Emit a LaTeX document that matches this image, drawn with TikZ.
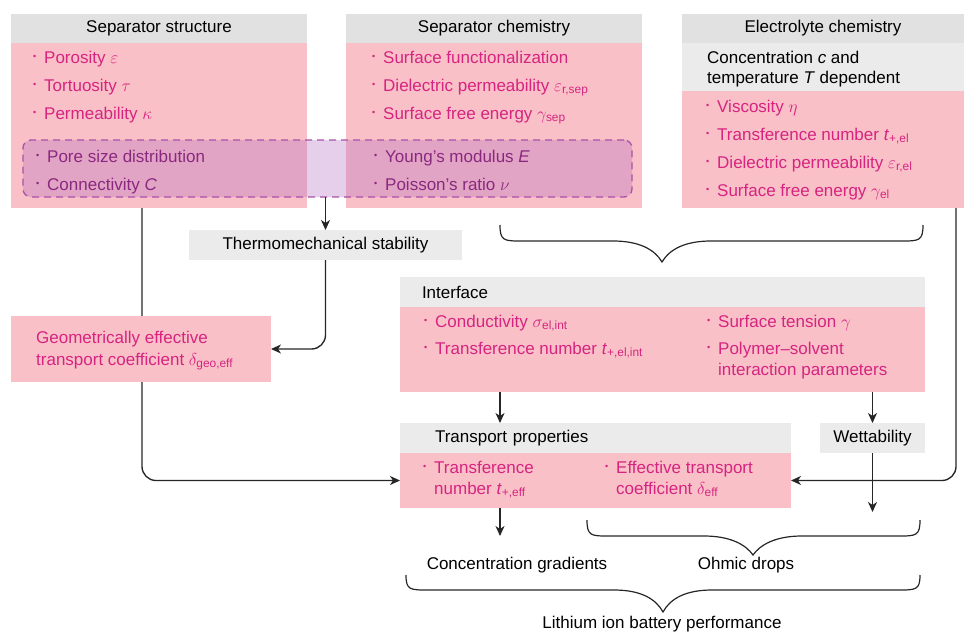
\documentclass[tikz,border=0pt]{standalone}
\usepackage{amsmath}
\usepackage{fontspec}
\setmainfont{Liberation Sans}
\usepackage{tikz}
\usetikzlibrary{arrows.meta, positioning, backgrounds}
\definecolor{boxpink}{RGB}{250,192,200}
\definecolor{hdrgray}{RGB}{225,225,225}
\definecolor{subgray}{RGB}{234,235,234}
\definecolor{magtext}{RGB}{214,36,128}
\definecolor{purptext}{RGB}{138,40,128}
\definecolor{mechfill}{RGB}{180,110,190}
\definecolor{mechline}{RGB}{168,82,168}
\newcommand{\bul}{\llap{\raisebox{4pt}{\fontsize{9}{9}\selectfont\textbullet}\hspace{8pt}}}
% left x, tip x, right x, end y, bar y, tip y
\newcommand{\curlybrace}[6]{%
  \draw[brc] (#1,#4) .. controls (#1,#5) and (#1+4,#5) .. (#1+22,#5)
    -- (#2-49,#5) .. controls (#2-22,#5) and (#2-7,#5+9) .. (#2,#6)
    .. controls (#2+7,#5+9) and (#2+22,#5) .. (#2+49,#5)
    -- (#3-22,#5) .. controls (#3-4,#5) and (#3,#5) .. (#3,#4);}

\begin{document}
\begin{tikzpicture}[x=1pt, y=-1pt,
    font=\fontsize{17}{21}\selectfont,
    base/.style={inner sep=0pt, outer sep=0pt, anchor=north west},
    hdr/.style={base, fill=hdrgray, minimum height=29pt, text=black},
    subhdr/.style={base, fill=subgray, minimum height=30pt, text=black},
    body/.style={base, fill=boxpink},
    mech/.style={base, draw=mechline, line width=1.3pt, dash pattern=on 7pt off 5pt,
                 fill=mechfill, fill opacity=0.33, rounded corners=8pt},
    item/.style={anchor=base west, inner sep=0pt, align=left, text=magtext},
    mitem/.style={item, text=purptext},
    plain/.style={anchor=base, inner sep=0pt, text=black},
    line/.style={draw=black!85, line width=1.35pt},
    arr/.style={line, -{Stealth[length=10pt, width=9pt, inset=3pt]}},
    brc/.style={line, line width=1.2pt}]
    \useasboundingbox (0,0) rectangle (967,632);

    % Separator structure (item nodes sit on the baseline of their last line)
    \node[hdr, minimum width=296pt] (sshdr) at (11,14) {Separator structure};
    \node[body, minimum width=296pt, minimum height=165pt] (ssbody) at (11,43) {};
    \node[item] (ssitems) at (44,119)
      {\bul Porosity $\varepsilon$\\[7pt]\bul Tortuosity $\tau$\\[7pt]\bul Permeability $\kappa$};

    % Separator chemistry
    \node[hdr, minimum width=296pt] (schdr) at (346,14) {Separator chemistry};
    \node[body, minimum width=296pt, minimum height=165pt] (scbody) at (346,43) {};
    \node[item] (scitems) at (383,119)
      {\bul Surface functionalization\\[7pt]
       \bul Dielectric permeability $\varepsilon_{\text{r,sep}}$\\[7pt]
       \bul Surface free energy $\gamma_{\text{sep}}$};

    % Electrolyte chemistry
    \node[hdr, minimum width=282pt] (elhdr) at (682,14) {Electrolyte chemistry};
    \node[subhdr, minimum width=282pt, minimum height=48pt] (elsub) at (682,43) {};
    \node[item, text=black] (eldep) at (707,83)
      {Concentration \textit{c} and\\[-1pt]temperature \textit{T} dependent};
    \node[body, minimum width=282pt, minimum height=117pt] (elbody) at (682,91) {};
    \node[item] (elitems) at (717,196)
      {\bul Viscosity $\eta$\\[7pt]
       \bul Transference number \textit{t}$_{\text{+,el}}$\\[7pt]
       \bul Dielectric permeability $\varepsilon_{\text{r,el}}$\\[7pt]
       \bul Surface free energy $\gamma_{\text{el}}$};

    % Mechanical properties (dashed overlay)
    \node[mech, minimum width=609pt, minimum height=57pt] (mech) at (23,140) {};
    \node[mitem] (mechl) at (47,190)
      {\bul Pore size distribution\\[7pt]\bul Connectivity \textit{C}};
    \node[mitem] (mechr) at (385,190)
      {\bul Young’s modulus \textit{E}\\[7pt]\bul Poisson’s ratio $\nu$};

    % Middle row
    \node[subhdr, minimum width=273pt] (thermo) at (189,230) {Thermomechanical stability};
    \node[body, minimum width=260pt, minimum height=66pt] (geo) at (11,316) {};
    \node[item] (geotxt) at (36,365)
      {Geometrically effective\\[1pt]transport coefficient $\delta_{\text{geo,eff}}$};

    % Interface
    \node[subhdr, text width=481pt, inner xsep=22pt, align=left] (ifhdr) at (400,277) {Interface};
    \node[body, minimum width=525pt, minimum height=85pt] (ifbody) at (400,307) {};
    \node[item] (ifleft) at (435,354)
      {\bul Conductivity $\sigma_{\text{el,int}}$\\[6pt]
       \bul Transference number \textit{t}$_{\text{+,el,int}}$};
    \node[item] (ifright) at (718,375)
      {\bul Surface tension $\gamma$\\[6pt]
       \bul Polymer–solvent\\interaction parameters};

    % Transport properties
    \node[subhdr, text width=321pt, inner xsep=35pt, inner ysep=0pt, align=left,
          minimum height=30pt] (tphdr) at (400,423) {Transport properties};
    \node[body, minimum width=391pt, minimum height=55pt] (tpbody) at (400,453) {};
    \node[item] (tpleft) at (434,494)
      {\bul Transference\\number \textit{t}$_{\text{+,eff}}$};
    \node[item] (tpright) at (616,494)
      {\bul Effective transport\\coefficient $\delta_{\text{eff}}$};
    \node[subhdr, minimum width=105pt] (wet) at (820,423) {Wettability};

    % Outcomes
    \node[plain] (conc) at (517,569) {Concentration gradients};
    \node[plain] (ohmic) at (746,569) {Ohmic drops};
    \node[plain] (perf) at (662,628) {Lithium ion battery performance};
    \coordinate (concin) at (500,536);
    \coordinate (wetout) at (872.5,512);

    % Connectors
    \begin{scope}[on background layer]
      \draw[arr, rounded corners=14pt] ([xshift=131pt]ssbody.south west) |- (tpbody.west);
    \end{scope}
    \draw[arr] (thermo.north |- mech.south) -- (thermo.north);
    \draw[arr, rounded corners=14pt] (thermo.south) |- (geo.east);
    \draw[arr, rounded corners=14pt] ([xshift=-8pt]elbody.south east) |- (tpbody.east);
    \draw[arr] ([xshift=100pt]ifbody.south west) -- ([xshift=100pt]tphdr.north west);
    \draw[arr] (wet.north |- ifbody.south) -- (wet.north);
    \draw[arr] ([xshift=100pt]tpbody.south west) -- (concin);
    \draw[arr] (wet.south) -- (wetout);

    % Braces
    \curlybrace{500}{662}{923}{225}{241}{262}
    \curlybrace{587}{753}{920}{520}{536}{555}
    \curlybrace{406}{663}{920}{575}{590}{612}
\end{tikzpicture}
\end{document}
